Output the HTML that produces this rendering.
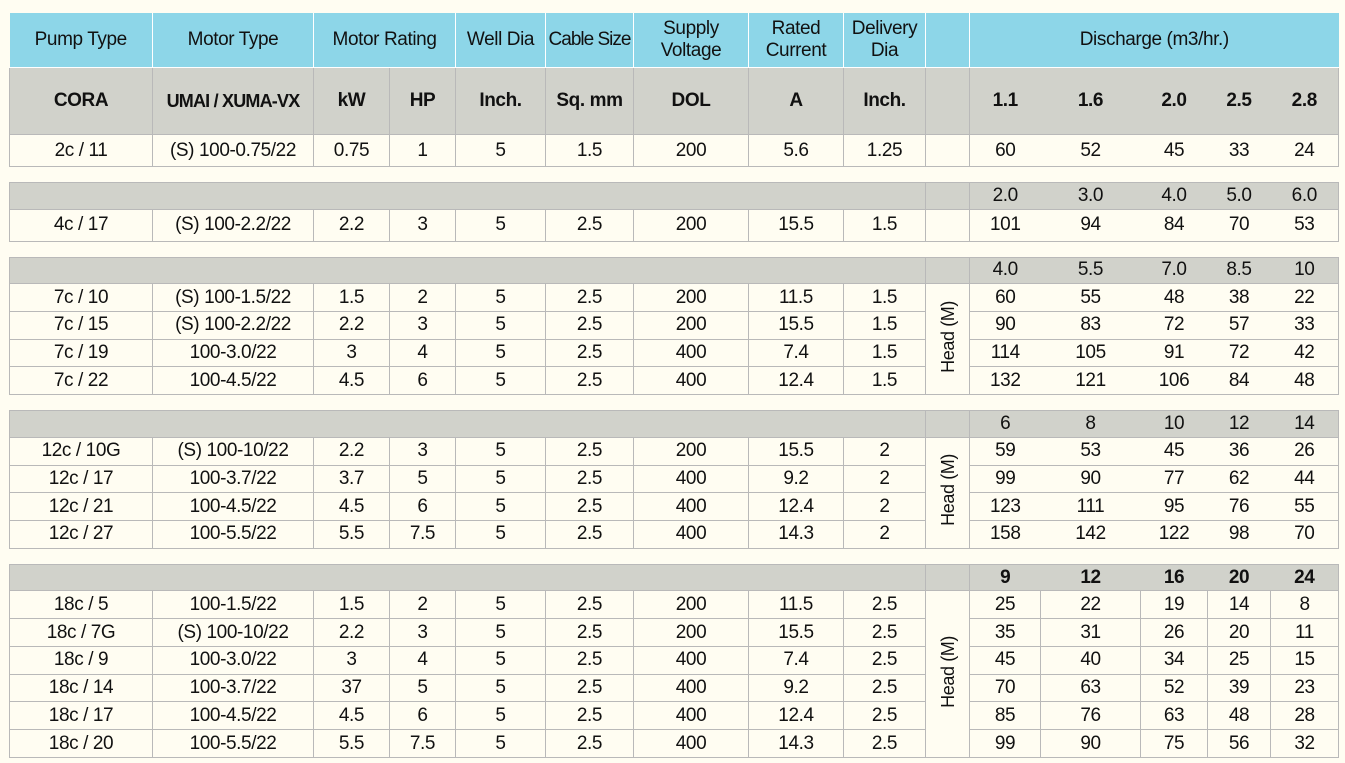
<!DOCTYPE html>
<html><head><meta charset="utf-8"><style>
body{margin:0;background:#fffdf2;width:1345px;height:763px;overflow:hidden}
table{position:absolute;left:9px;top:13px;width:1329px;border-collapse:collapse;table-layout:fixed;font-family:"Liberation Sans",sans-serif;font-size:19px;letter-spacing:-0.4px;color:#111}
td{border:1px solid #b9b9b9;text-align:center;padding:0;height:26px;line-height:20px;white-space:nowrap;overflow:hidden}
tr.h td{background:#8dd6e8;border:1px solid #fff;border-top:none;height:54px;font-size:19px;line-height:22px}
tr.s td{background:#d1d2cb;height:66px;font-weight:bold}
tr.s td.sm{font-size:18px;letter-spacing:-0.8px}
tr.g td{background:#d1d2cb;height:25.6px}
tr.t td{height:31px}
tr.g3 td{height:26.75px}
td.nd{border-left:none;border-right:none}
td.nl{border-left:none}
tr.gap td{border-left:none;border-right:none;height:15px;background:#fffdf2}
.v{writing-mode:vertical-rl;transform:rotate(180deg);display:inline-block;font-size:18px}
</style></head><body>
<table>
<colgroup><col style="width:143px"><col style="width:161px"><col style="width:76px"><col style="width:66px"><col style="width:90px"><col style="width:88px"><col style="width:115px"><col style="width:95px"><col style="width:82px"><col style="width:44px"><col style="width:71px"><col style="width:100px"><col style="width:67px"><col style="width:63px"><col style="width:68px"></colgroup>
<tr class="h"><td style="border-left:none">Pump Type</td><td>Motor Type</td><td colspan="2">Motor Rating</td><td>Well Dia</td><td style="letter-spacing:-1px">Cable Size</td><td>Supply<br>Voltage</td><td>Rated<br>Current</td><td>Delivery<br>Dia</td><td></td><td colspan="5" style="border-right:none">Discharge (m3/hr.)</td></tr>
<tr class="s"><td>CORA</td><td class="sm">UMAI / XUMA-VX</td><td>kW</td><td>HP</td><td>Inch.</td><td>Sq. mm</td><td>DOL</td><td>A</td><td>Inch.</td><td></td><td class="nd" style="border-left:1px solid #b9b9b9">1.1</td><td class="nd">1.6</td><td class="nd">2.0</td><td class="nd">2.5</td><td class="nl">2.8</td></tr>
<tr class="t"><td>2c / 11</td><td>(S) 100-0.75/22</td><td>0.75</td><td>1</td><td>5</td><td>1.5</td><td>200</td><td>5.6</td><td>1.25</td><td></td><td class="nd" style="border-left:1px solid #b9b9b9">60</td><td class="nd">52</td><td class="nd">45</td><td class="nd">33</td><td class="nl">24</td></tr>
<tr class="gap"><td colspan="15"></td></tr>
<tr class="g"><td colspan="9"></td><td></td><td class="nd" style="border-left:1px solid #b9b9b9">2.0</td><td class="nd">3.0</td><td class="nd">4.0</td><td class="nd">5.0</td><td class="nl">6.0</td></tr>
<tr class="t"><td>4c / 17</td><td>(S) 100-2.2/22</td><td>2.2</td><td>3</td><td>5</td><td>2.5</td><td>200</td><td>15.5</td><td>1.5</td><td></td><td class="nd" style="border-left:1px solid #b9b9b9">101</td><td class="nd">94</td><td class="nd">84</td><td class="nd">70</td><td class="nl">53</td></tr>
<tr class="gap"><td colspan="15"></td></tr>
<tr class="g"><td colspan="9"></td><td></td><td class="nd" style="border-left:1px solid #b9b9b9">4.0</td><td class="nd">5.5</td><td class="nd">7.0</td><td class="nd">8.5</td><td class="nl">10</td></tr>
<tr class="g3"><td>7c / 10</td><td>(S) 100-1.5/22</td><td>1.5</td><td>2</td><td>5</td><td>2.5</td><td>200</td><td>11.5</td><td>1.5</td><td rowspan="4"><span class="v">Head (M)</span></td><td class="nd" style="border-left:1px solid #b9b9b9">60</td><td class="nd">55</td><td class="nd">48</td><td class="nd">38</td><td class="nl">22</td></tr>
<tr class="g3"><td>7c / 15</td><td>(S) 100-2.2/22</td><td>2.2</td><td>3</td><td>5</td><td>2.5</td><td>200</td><td>15.5</td><td>1.5</td><td class="nd" style="border-left:1px solid #b9b9b9">90</td><td class="nd">83</td><td class="nd">72</td><td class="nd">57</td><td class="nl">33</td></tr>
<tr class="g3"><td>7c / 19</td><td>100-3.0/22</td><td>3</td><td>4</td><td>5</td><td>2.5</td><td>400</td><td>7.4</td><td>1.5</td><td class="nd" style="border-left:1px solid #b9b9b9">114</td><td class="nd">105</td><td class="nd">91</td><td class="nd">72</td><td class="nl">42</td></tr>
<tr class="g3"><td>7c / 22</td><td>100-4.5/22</td><td>4.5</td><td>6</td><td>5</td><td>2.5</td><td>400</td><td>12.4</td><td>1.5</td><td class="nd" style="border-left:1px solid #b9b9b9">132</td><td class="nd">121</td><td class="nd">106</td><td class="nd">84</td><td class="nl">48</td></tr>
<tr class="gap"><td colspan="15"></td></tr>
<tr class="g"><td colspan="9"></td><td></td><td class="nd" style="border-left:1px solid #b9b9b9">6</td><td class="nd">8</td><td class="nd">10</td><td class="nd">12</td><td class="nl">14</td></tr>
<tr class="g3"><td>12c / 10G</td><td>(S) 100-10/22</td><td>2.2</td><td>3</td><td>5</td><td>2.5</td><td>200</td><td>15.5</td><td>2</td><td rowspan="4"><span class="v">Head (M)</span></td><td class="nd" style="border-left:1px solid #b9b9b9">59</td><td class="nd">53</td><td class="nd">45</td><td class="nd">36</td><td class="nl">26</td></tr>
<tr class="g3"><td>12c / 17</td><td>100-3.7/22</td><td>3.7</td><td>5</td><td>5</td><td>2.5</td><td>400</td><td>9.2</td><td>2</td><td class="nd" style="border-left:1px solid #b9b9b9">99</td><td class="nd">90</td><td class="nd">77</td><td class="nd">62</td><td class="nl">44</td></tr>
<tr class="g3"><td>12c / 21</td><td>100-4.5/22</td><td>4.5</td><td>6</td><td>5</td><td>2.5</td><td>400</td><td>12.4</td><td>2</td><td class="nd" style="border-left:1px solid #b9b9b9">123</td><td class="nd">111</td><td class="nd">95</td><td class="nd">76</td><td class="nl">55</td></tr>
<tr class="g3"><td>12c / 27</td><td>100-5.5/22</td><td>5.5</td><td>7.5</td><td>5</td><td>2.5</td><td>400</td><td>14.3</td><td>2</td><td class="nd" style="border-left:1px solid #b9b9b9">158</td><td class="nd">142</td><td class="nd">122</td><td class="nd">98</td><td class="nl">70</td></tr>
<tr class="gap"><td colspan="15"></td></tr>
<tr class="g"><td colspan="9"></td><td></td><td class="nd" style="border-left:1px solid #b9b9b9;font-weight:bold">9</td><td class="nd" style="font-weight:bold">12</td><td class="nd" style="font-weight:bold">16</td><td class="nd" style="font-weight:bold">20</td><td class="nl" style="font-weight:bold">24</td></tr>
<tr class="g3"><td>18c / 5</td><td>100-1.5/22</td><td>1.5</td><td>2</td><td>5</td><td>2.5</td><td>200</td><td>11.5</td><td>2.5</td><td rowspan="6"><span class="v">Head (M)</span></td><td>25</td><td>22</td><td>19</td><td>14</td><td>8</td></tr>
<tr class="g3"><td>18c / 7G</td><td>(S) 100-10/22</td><td>2.2</td><td>3</td><td>5</td><td>2.5</td><td>200</td><td>15.5</td><td>2.5</td><td>35</td><td>31</td><td>26</td><td>20</td><td>11</td></tr>
<tr class="g3"><td>18c / 9</td><td>100-3.0/22</td><td>3</td><td>4</td><td>5</td><td>2.5</td><td>400</td><td>7.4</td><td>2.5</td><td>45</td><td>40</td><td>34</td><td>25</td><td>15</td></tr>
<tr class="g3"><td>18c / 14</td><td>100-3.7/22</td><td>37</td><td>5</td><td>5</td><td>2.5</td><td>400</td><td>9.2</td><td>2.5</td><td>70</td><td>63</td><td>52</td><td>39</td><td>23</td></tr>
<tr class="g3"><td>18c / 17</td><td>100-4.5/22</td><td>4.5</td><td>6</td><td>5</td><td>2.5</td><td>400</td><td>12.4</td><td>2.5</td><td>85</td><td>76</td><td>63</td><td>48</td><td>28</td></tr>
<tr class="g3"><td>18c / 20</td><td>100-5.5/22</td><td>5.5</td><td>7.5</td><td>5</td><td>2.5</td><td>400</td><td>14.3</td><td>2.5</td><td>99</td><td>90</td><td>75</td><td>56</td><td>32</td></tr>
</table>
</body></html>
